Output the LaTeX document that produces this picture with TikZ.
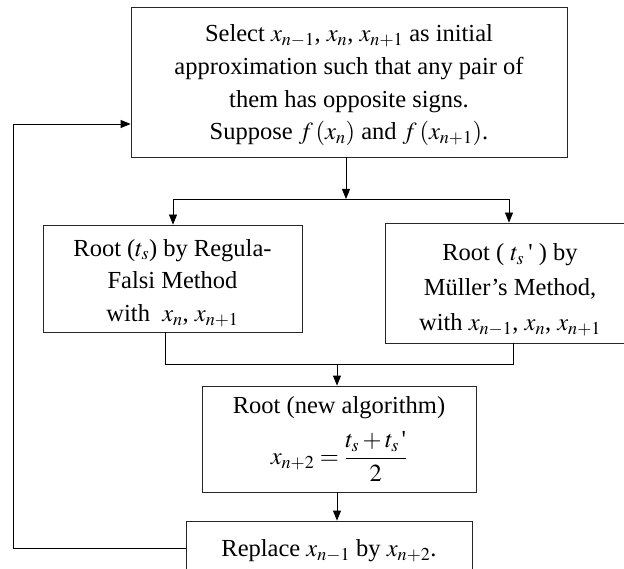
\documentclass[tikz,border=0pt]{standalone}
\usepackage{mathptmx}
\usepackage[no-math]{fontspec}
\setmainfont{Liberation Serif}
\usetikzlibrary{arrows.meta}
\begin{document}
\begin{tikzpicture}[x=1pt,y=-1pt,
  line width=0.8pt,
  box/.style={draw=black!85,inner sep=0pt,align=center,text=black},
  arr/.style={-{Triangle[length=10pt,width=8pt]}},
  font=\fontsize{24.5}{32.7}\selectfont]
\useasboundingbox (0,0) rectangle (624,569);
\node[box,minimum width=436pt,minimum height=150pt] (top) at (349,82)
  {\rule{0pt}{24pt}Select $x_{n-1}$, $x_n$, $x_{n+1}$ as initial\\
   approximation such that any pair of\\
   them has opposite signs.\\
   Suppose $f\,(x_n)$ and $f\,(x_{n+1})$.};
\node[box,minimum width=259pt,minimum height=107pt] (left) at (172.5,278.5)
  {\rule{0pt}{26pt}Root ($t_s$) by Regula-\\
   Falsi Method\\
   with\ \ $x_n$, $x_{n+1}$};
\node[box,minimum width=250pt,minimum height=120pt,
      font=\fontsize{24.5}{35}\selectfont] (right) at (510,283)
  {\rule{0pt}{30pt}Root ( $t_s$\,\textquotesingle\ ) by\\
   M\"uller’s Method,\\
   with $x_{n-1}$, $x_n$, $x_{n+1}$};
\node[box,minimum width=274pt,minimum height=106pt] (root) at (339,439)
  {Root (new algorithm)\\[12pt]
   $\displaystyle x_{n+2}=\frac{t_s+t_s\,\mbox{\textquotesingle}}{2}$};
\node[box,minimum width=286pt,minimum height=59pt] (rep) at (329,550.5)
  {Replace $x_{n-1}$ by $x_{n+2}$.};
\coordinate (split) at (346,199);
\coordinate (sl) at (173,199);
\coordinate (sr) at (509,199);
\coordinate (jl) at (165,364);
\coordinate (jr) at (513,364);
\coordinate (jm) at (337,364);
\coordinate (fb) at (13,548);
\coordinate (ft) at (13,124);
\draw[arr] (split |- top.south) -- (split);
\draw (sl) -- (sr);
\draw[arr] (sl) -- (sl |- left.north);
\draw[arr] (sr) -- (sr |- right.north);
\draw (jl |- left.south) -- (jl) -- (jr) -- (jr |- right.south);
\draw[arr] (jm) -- (jm |- root.north);
\draw[arr] (jm |- root.south) -- (jm |- rep.north);
\draw[arr] (fb -| rep.west) -- (fb) -- (ft) -- (ft -| top.west);
\end{tikzpicture}
\end{document}
